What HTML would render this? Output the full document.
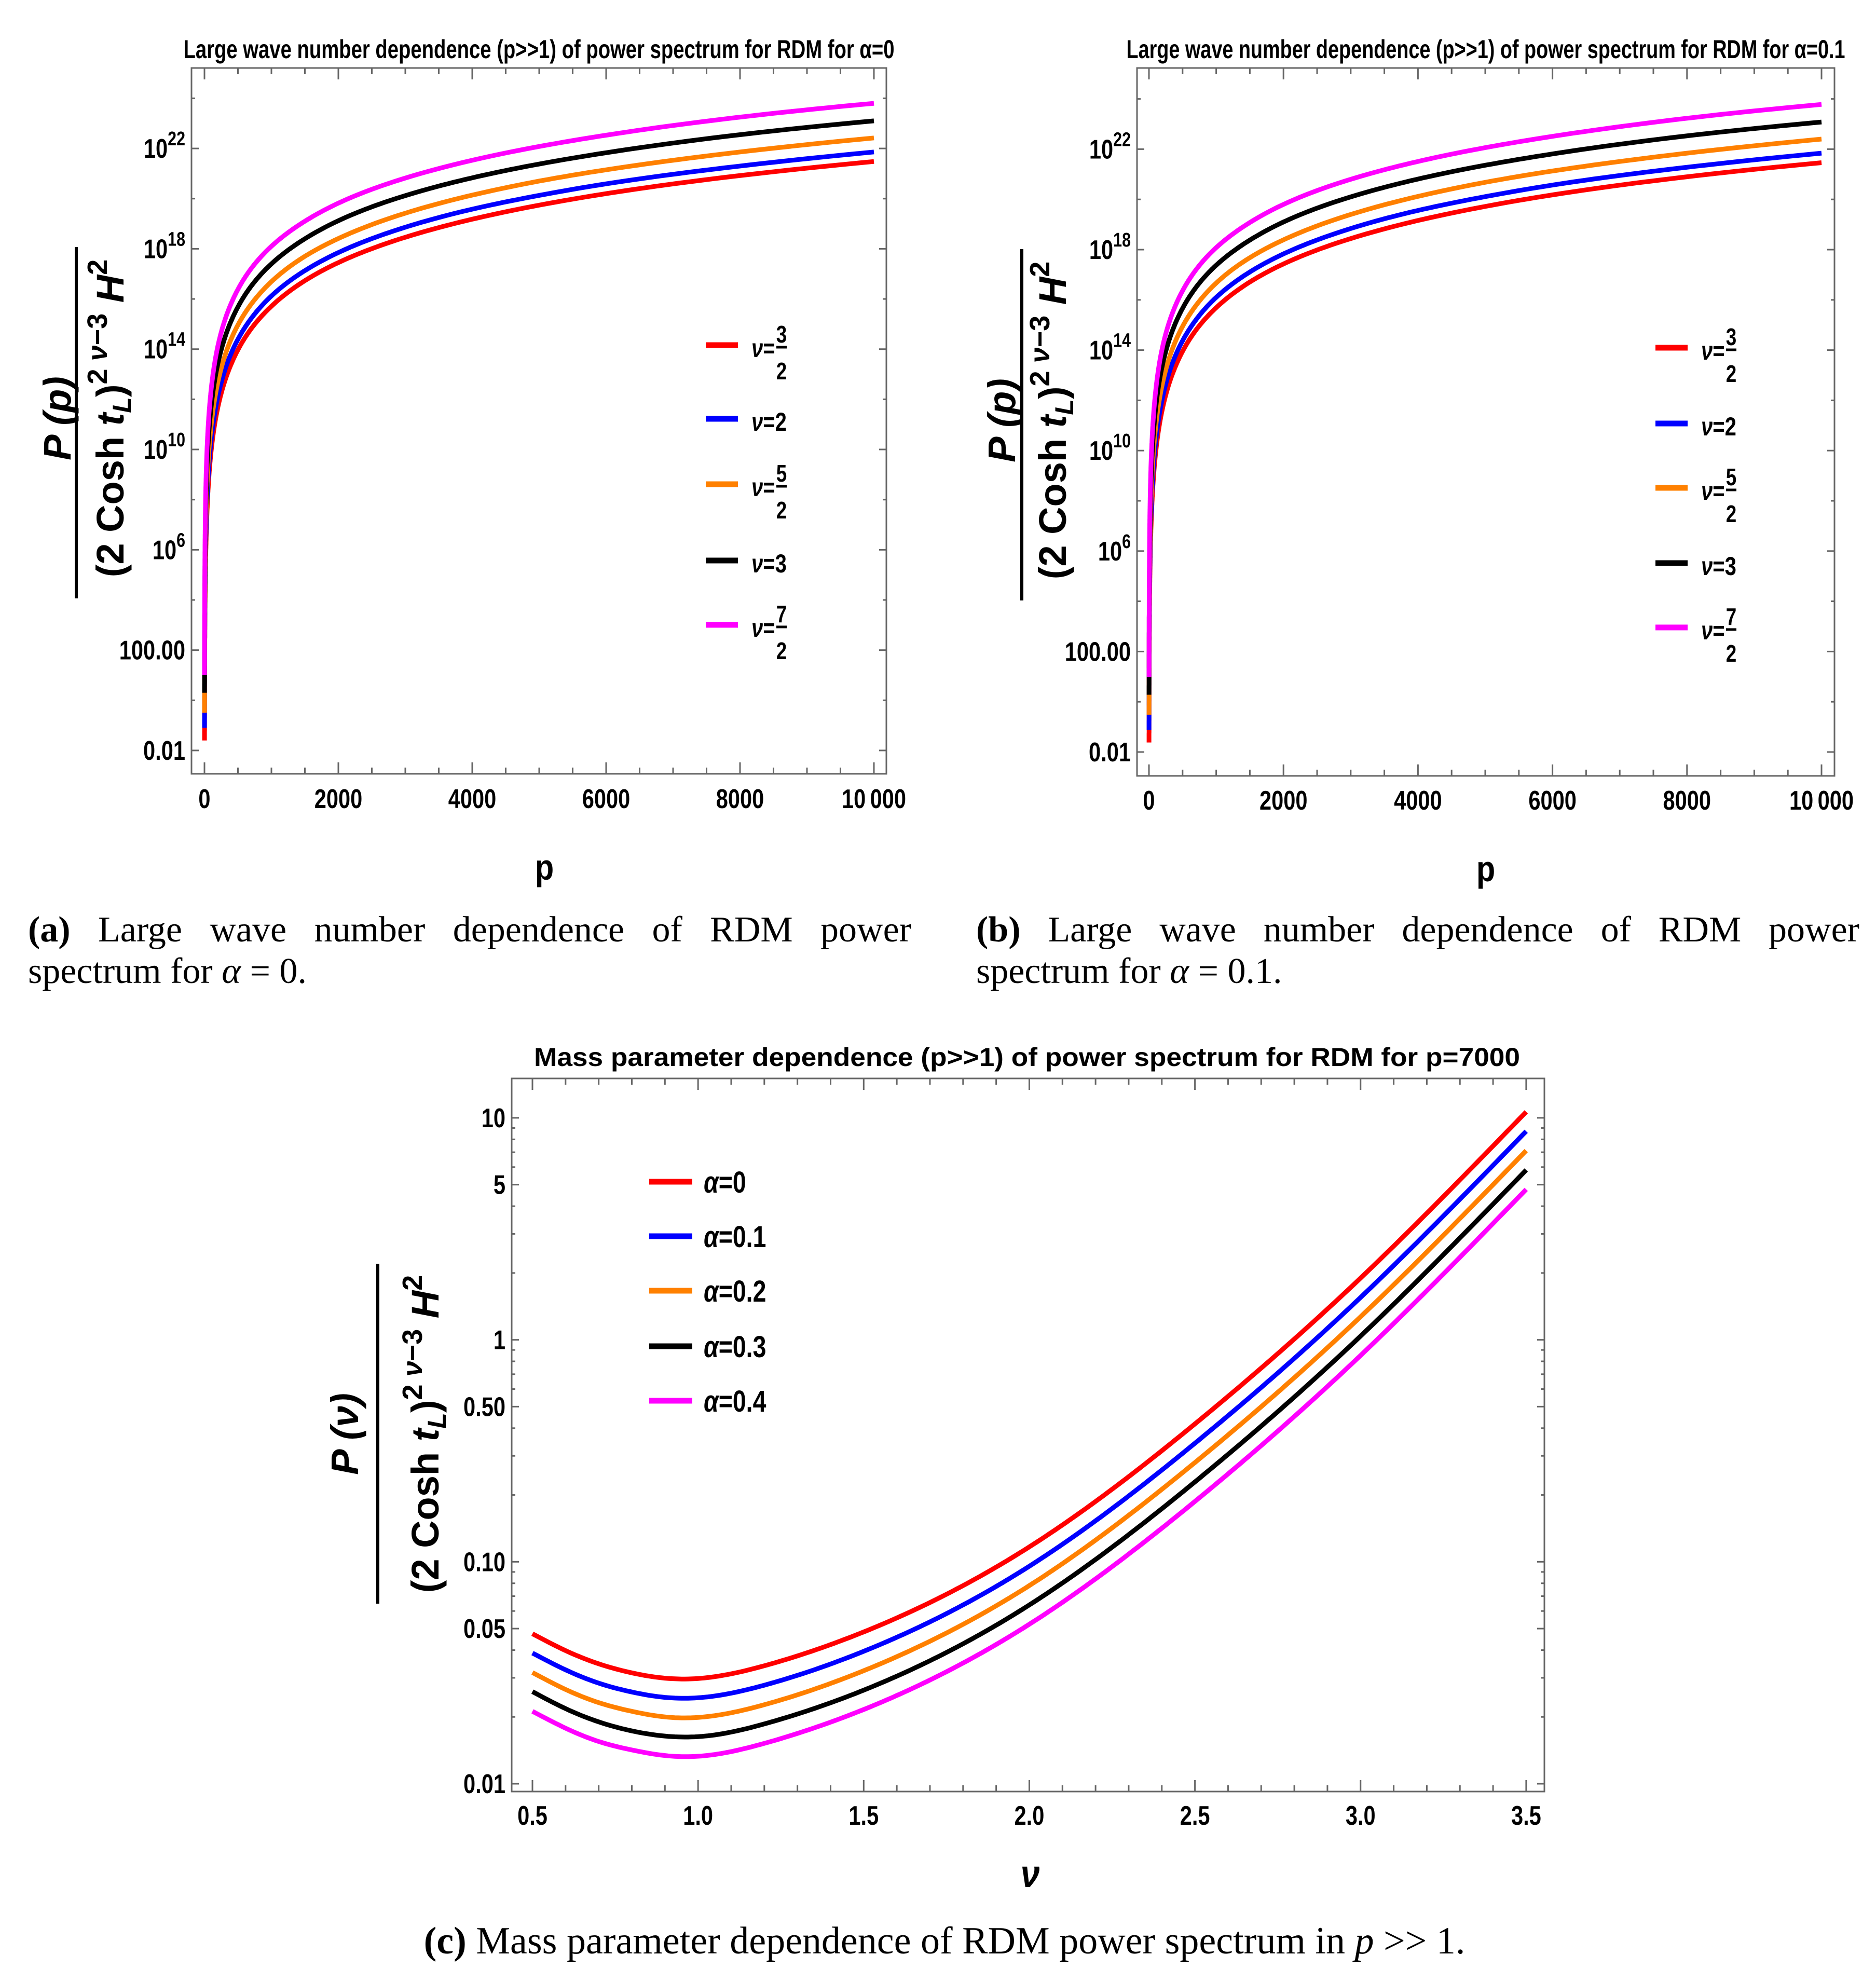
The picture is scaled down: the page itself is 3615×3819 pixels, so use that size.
<!DOCTYPE html>
<html><head><meta charset="utf-8">
<style>
html,body{margin:0;padding:0;background:#fff;}
#root{position:relative;width:3615px;height:3819px;overflow:hidden;background:#fff;}
svg{position:absolute;left:0;top:0;}
.cap{position:absolute;font-family:"Liberation Serif",serif;font-size:70px;line-height:80px;color:#000;}
.j1{text-align:justify;text-align-last:justify;white-space:nowrap;}
</style></head>
<body>
<div id="root">
<svg id="svg" width="3615" height="3819" viewBox="0 0 3615 3819" xmlns="http://www.w3.org/2000/svg">
<defs>
<clipPath id="clipA"><rect x="369" y="131" width="1339" height="1358"/></clipPath>
<clipPath id="clipB"><rect x="2191" y="131" width="1344" height="1364"/></clipPath>
<clipPath id="clipC"><rect x="986" y="2078" width="1990" height="1374"/></clipPath>
</defs>
</svg>
<div class="cap j1" style="left:54px;top:1752px;width:1702px;"><b>(a)</b> Large wave number dependence of RDM power</div>
<div class="cap" style="left:54px;top:1832px;">spectrum for <i>α</i> = 0.</div>
<div class="cap j1" style="left:1881px;top:1752px;width:1702px;"><b>(b)</b> Large wave number dependence of RDM power</div>
<div class="cap" style="left:1881px;top:1832px;">spectrum for <i>α</i> = 0.1.</div>
<div class="cap" style="left:0;width:3640px;text-align:center;top:3700px;font-size:74px;"><b>(c)</b> Mass parameter dependence of RDM power spectrum in <i>p</i> &gt;&gt; 1.</div>
</div>
<script>
// ---------- Panel (a) data: log10 of P(p)/(...) ----------
const aP = [1,3,10,30,100,200,400,700,1000,1500,2000,3000,4000,5000,6000,8000,10000];
const aRed = [-1.60,1.15,4.17,6.92,9.94,11.68,13.41,14.82,15.71,16.73,17.45,18.46,19.18,19.74,20.20,20.92,21.48];
const aBlue = [-1.10,1.64,4.64,7.38,10.38,12.11,13.84,15.23,16.12,17.13,17.85,18.86,19.58,20.13,20.59,21.30,21.86];
const aOrange = [-0.50,2.23,5.23,7.96,10.96,12.68,14.41,15.80,16.69,17.70,18.41,19.42,20.14,20.70,21.15,21.86,22.42];
const aBlack = [0.30,3.02,6.00,8.72,11.70,13.42,15.13,16.52,17.40,18.40,19.12,20.12,20.83,21.38,21.83,22.55,23.10];
const aMagenta = [1.00,3.72,6.70,9.42,12.40,14.12,15.83,17.22,18.10,19.10,19.82,20.82,21.53,22.08,22.53,23.25,23.80];
// ---------- Panel (b) data ----------
const bP = [1,3,10,30,100,200,400,700,1000,1500,2000,3000,4000,5000,6000,8000,10000];
const bRed = [-1.62,1.13,4.15,6.90,9.92,11.66,13.39,14.80,15.69,16.71,17.43,18.44,19.16,19.72,20.18,20.90,21.46];
const bBlue = [-1.12,1.62,4.62,7.36,10.36,12.09,13.82,15.21,16.10,17.11,17.83,18.84,19.56,20.11,20.57,21.28,21.84];
const bOrange = [-0.52,2.21,5.21,7.94,10.94,12.66,14.39,15.78,16.67,17.68,18.39,19.40,20.12,20.68,21.13,21.84,22.40];
const bBlack = [0.28,3.00,5.98,8.70,11.68,13.40,15.11,16.50,17.38,18.38,19.10,20.10,20.81,21.36,21.81,22.53,23.08];
const bMagenta = [0.98,3.70,6.68,9.40,12.38,14.10,15.81,17.20,18.08,19.08,19.80,20.80,21.51,22.06,22.51,23.23,23.78];
// ---------- Panel (c) data ----------
const cNu = [0.5,0.6,0.7,0.8,0.9,1.0,1.2,1.5,2.0,2.5,3.0,3.5];
const cA0 = [0.0474,0.0398,0.0347,0.0316,0.0299,0.0298,0.0340,0.0483,0.1167,0.418,1.897,10.64];
const cA01 = [0.0388,0.0326,0.0284,0.0259,0.0245,0.0244,0.0278,0.0395,0.0955,0.342,1.552,8.70];
const cA02 = [0.0317,0.0266,0.0232,0.0212,0.0200,0.0199,0.0227,0.0323,0.0781,0.280,1.270,7.12];
const cA03 = [0.0260,0.0218,0.0190,0.0173,0.0164,0.0163,0.0186,0.0264,0.0639,0.229,1.039,5.82];
const cA04 = [0.0212,0.0178,0.0155,0.0142,0.0134,0.0133,0.0152,0.0216,0.0523,0.187,0.850,4.76];
const abYTickExp = [-2,2,6,10,14,18,22];
const abXTicks = [0,2000,4000,6000,8000,10000];
const abXTickLabels = ["0","2000","4000","6000","8000","10\u2009000"];
const cYTicks = [10,5,1,0.5,0.1,0.05,0.01];
const cYTickLabels = ["10","5","1","0.50","0.10","0.05","0.01"];
const cXTicks = [0.5,1.0,1.5,2.0,2.5,3.0,3.5];
const cXTickLabels = ["0.5","1.0","1.5","2.0","2.5","3.0","3.5"];
const abLegendLabels = [["3","2"],"2",["5","2"],"3",["7","2"]];
const cLegendLabels = ["α=0","α=0.1","α=0.2","α=0.3","α=0.4"];
const COLORS = ["#ff0000","#0000ff","#ff8000","#000000","#ff00ff"];

const NS = "http://www.w3.org/2000/svg";
const svg = document.getElementById('svg');
function mk(tag, parent){ const e=document.createElementNS(NS,tag); parent.appendChild(e); return e; }
function ntext(parent,x,y,str,size,anchor,sx){
  const t=mk('text',parent);
  t.setAttribute('transform','translate('+x+','+y+') scale('+sx+',1)');
  t.setAttribute('font-family','"Liberation Sans",sans-serif');
  t.setAttribute('font-weight','bold');
  t.setAttribute('font-size',size);
  t.setAttribute('text-anchor',anchor);
  t.textContent=str;
  return t;
}
// natural cubic spline evaluator (for smooth drawing through data points)
function natSpline(X,Y){
  const n=X.length, h=[], al=[], l=[1], mu=[0], z=[0], c=new Array(n).fill(0), b=[], d=[];
  for(let i=0;i<n-1;i++) h.push(X[i+1]-X[i]);
  for(let i=1;i<n-1;i++) al[i]=3/h[i]*(Y[i+1]-Y[i])-3/h[i-1]*(Y[i]-Y[i-1]);
  for(let i=1;i<n-1;i++){ l[i]=2*(X[i+1]-X[i-1])-h[i-1]*mu[i-1]; mu[i]=h[i]/l[i]; z[i]=(al[i]-h[i-1]*z[i-1])/l[i]; }
  l[n-1]=1; z[n-1]=0; c[n-1]=0;
  for(let j=n-2;j>=0;j--){ c[j]=z[j]-mu[j]*c[j+1]; b[j]=(Y[j+1]-Y[j])/h[j]-h[j]*(c[j+1]+2*c[j])/3; d[j]=(c[j+1]-c[j])/(3*h[j]); }
  return function(x){
    let i=0; while(i<n-2 && x>X[i+1]) i++;
    const t=x-X[i]; return Y[i]+b[i]*t+c[i]*t*t+d[i]*t*t*t;
  };
}
function polyPath(pts){ return 'M'+pts.map(p=>p[0].toFixed(1)+','+p[1].toFixed(1)).join(' L'); }
function line(parent,x1,y1,x2,y2,stroke,w){
  const l=mk('line',parent);
  l.setAttribute('x1',x1);l.setAttribute('y1',y1);l.setAttribute('x2',x2);l.setAttribute('y2',y2);
  l.setAttribute('stroke',stroke);l.setAttribute('stroke-width',w);
  return l;
}
function frame(g,L,T,R,B){
  const r=mk('rect',g);
  r.setAttribute('x',L);r.setAttribute('y',T);r.setAttribute('width',R-L);r.setAttribute('height',B-T);
  r.setAttribute('fill','none');r.setAttribute('stroke','#666');r.setAttribute('stroke-width',3);
  
  
}
function yLabel(g,cfg,numStr){
  const n=mk('text',g);
  n.setAttribute('transform','translate('+cfg.numX+','+cfg.cy+') rotate(-90)');
  n.setAttribute('font-family','"Liberation Sans",sans-serif');
  n.setAttribute('font-weight','bold');n.setAttribute('font-style','italic');
  n.setAttribute('font-size',74);n.setAttribute('text-anchor','middle');
  n.textContent=numStr;
  
  
  const bar=line(g,cfg.barX,cfg.barT,cfg.barX,cfg.barB,'#000',6);
  
  
  const d=mk('text',g);
  d.setAttribute('transform','translate('+cfg.denX+','+cfg.cy+') rotate(-90)');
  d.setAttribute('font-family','"Liberation Sans",sans-serif');
  d.setAttribute('font-weight','bold');
  d.setAttribute('font-size',74);d.setAttribute('text-anchor','middle');
  d.innerHTML='(2 Cosh <tspan font-style="italic">t</tspan><tspan font-size="50" dy="14" font-style="italic">L</tspan><tspan dy="-14">)</tspan><tspan font-size="54" dy="-32">2 <tspan font-style="italic">ν</tspan>−3</tspan><tspan dy="32"> </tspan><tspan font-style="italic">H</tspan><tspan font-size="54" dy="-32">2</tspan>';
  
  
}

function drawAB(cfg){
  const g=mk('g',svg);
  
  
  const xs=p=>cfg.x0+p*(cfg.x1-cfg.x0)/10000;
  const ys=e=>cfg.yBase-(e+2)*cfg.dec;
  const t=ntext(g,(cfg.L+cfg.R)/2,cfg.titleY,cfg.title,50,'middle',1);
  t.setAttribute('textLength',cfg.titleW);t.setAttribute('lengthAdjust','spacingAndGlyphs');
  t.setAttribute('transform','translate('+((cfg.L+cfg.R)/2)+','+cfg.titleY+')');
  
  
  frame(g,cfg.L,cfg.T,cfg.R,cfg.B);
  for(let p=0;p<=10000;p+=500){
    const maj=(p%2000===0), len=maj?22:12, x=xs(p);
    const tk=line(g,x,cfg.B,x,cfg.B-len,'#666',3);
    
    
    const tk2=line(g,x,cfg.T,x,cfg.T+len,'#666',3);
    
    
  }
  abXTicks.forEach((v,i)=>{
    const lb=ntext(g,xs(v),cfg.xLabY,abXTickLabels[i],52,'middle',0.8);
    
    
  });
  for(let e=-2;e<=26;e+=2){
    const y=ys(e); if(y<cfg.T+2) continue;
    const maj=((e+2)%4===0), len=maj?14:7;
    const tk=line(g,cfg.L,y,cfg.L+len,y,'#666',3);
    
    
    const tk2=line(g,cfg.R,y,cfg.R-len,y,'#666',3);
    
    
  }
  abYTickExp.forEach(e=>{
    const y=ys(e)+18, x=cfg.L-12;
    let lb;
    if(e===-2) lb=ntext(g,x,y,'0.01',52,'end',0.8);
    else if(e===2) lb=ntext(g,x,y,'100.00',52,'end',0.8);
    else { lb=ntext(g,x,y,'',52,'end',0.8); lb.innerHTML='10<tspan font-size="38" dy="-24">'+e+'</tspan>'; }
    
    
  });
  const cg=mk('g',g); cg.setAttribute('clip-path','url(#'+cfg.clip+')');
  
  
  const lp=cfg.p.map(p=>Math.log10(p));
  cfg.series.forEach((s,i)=>{
    const f=natSpline(lp,s);
    const pts=[];
    const lo=lp[0], hi=lp[lp.length-1];
    for(let k=0;k<=400;k++){ const u=lo+(hi-lo)*k/400; pts.push([xs(Math.pow(10,u)),ys(f(u))]); }
    const path=mk('path',cg);
    path.setAttribute('d',polyPath(pts));
    path.setAttribute('fill','none');path.setAttribute('stroke',COLORS[i]);
    path.setAttribute('stroke-width',9);path.setAttribute('stroke-linejoin','round');
    
    
  });
  abLegendLabels.forEach((lab,i)=>{
    const y=cfg.legY[i];
    const lg=mk('g',g);
    
    
    const sw=line(lg,cfg.legX,y,cfg.legX+62,y,COLORS[i],11);
    
    
    const tx=cfg.legX+88;
    const t1=ntext(lg,tx,y+23,'',50,'start',0.8);
    t1.innerHTML='<tspan font-style="italic">ν</tspan>=' + (Array.isArray(lab)?'':lab);
    
    
    if(Array.isArray(lab)){
      const fx=tx+58;
      const n=ntext(lg,fx,y-5,lab[0],46,'middle',0.8);
      
      
      const fb=line(lg,fx-10,y+4,fx+10,y+4,'#000',5);
      
      
      const d=ntext(lg,fx,y+66,lab[1],46,'middle',0.8);
      
      
    }
  });
  const xl=ntext(g,cfg.xTitleX,cfg.xTitleY,'p',70,'middle',0.85);
  
  
  yLabel(g,cfg.yl,'P (p)');
}

drawAB({name:'panel-a-chart',L:369,T:131,R:1708,B:1491,x0:394,x1:1684,yBase:1446,dec:48.33,
  title:'Large wave number dependence (p>>1) of power spectrum for RDM for α=0',titleY:112,titleW:1370,
  xLabY:1557,clip:'clipA',p:aP,series:[aRed,aBlue,aOrange,aBlack,aMagenta],
  seriesNames:['nu-3-2','nu-2','nu-5-2','nu-3','nu-7-2'],
  legX:1360,legY:[665,807,933,1080,1204],xTitleX:1049,xTitleY:1695,
  yl:{numX:136,denX:238,barX:147,barT:476,barB:1153,cy:806}});
drawAB({name:'panel-b-chart',L:2191,T:131,R:3535,B:1495,x0:2214,x1:3510,yBase:1449,dec:48.4,
  title:'Large wave number dependence (p>>1) of power spectrum for RDM for α=0.1',titleY:112,titleW:1385,
  xLabY:1560,clip:'clipB',p:bP,series:[bRed,bBlue,bOrange,bBlack,bMagenta],
  seriesNames:['nu-3-2','nu-2','nu-5-2','nu-3','nu-7-2'],
  legX:3190,legY:[670,816,940,1085,1209],xTitleX:2863,xTitleY:1698,
  yl:{numX:1956,denX:2054,barX:1969,barT:480,barB:1157,cy:810}});

(function(){
  const L=986,T=2078,R=2976,B=3452;
  const xs=v=>1026+(v-0.5)*638.3;
  const yl=l=>3437-(l+2)*427.7;
  const ys=P=>yl(Math.log10(P));
  const g=mk('g',svg);
  
  
  const t=ntext(g,1979,2054,'Mass parameter dependence (p>>1) of power spectrum for RDM for p=7000',50,'middle',1);
  t.setAttribute('textLength',1900);t.setAttribute('lengthAdjust','spacingAndGlyphs');
  t.setAttribute('transform','translate(1979,2054)');
  
  
  frame(g,L,T,R,B);
  for(let k=0;k<=30;k++){
    const v=0.5+k*0.1, x=xs(v), maj=(k%5===0), len=maj?22:12;
    const tk=line(g,x,B,x,B-len,'#666',3);
    
    
    const tk2=line(g,x,T,x,T+len,'#666',3);
    
    
  }
  cXTicks.forEach((v,i)=>{
    const lb=ntext(g,xs(v),3516,cXTickLabels[i],52,'middle',0.8);
    
    
  });
  for(let e=-2;e<=1;e++){
    for(let m=1;m<=9;m++){
      const P=m*Math.pow(10,e), y=ys(P); if(y<T+2) continue;
      const maj=(m===1||m===5), len=maj?14:7;
      const tk=line(g,L,y,L+len,y,'#666',3);
      
      
      const tk2=line(g,R,y,R-len,y,'#666',3);
      
      
    }
  }
  cYTicks.forEach((v,i)=>{
    const lb=ntext(g,L-12,ys(v)+18,cYTickLabels[i],52,'end',0.8);
    
    
  });
  const cg=mk('g',g); cg.setAttribute('clip-path','url(#clipC)');
  
  
  const names=['alpha-0','alpha-0-1','alpha-0-2','alpha-0-3','alpha-0-4'];
  [cA0,cA01,cA02,cA03,cA04].forEach((s,i)=>{
    const f=natSpline(cNu,s.map(v=>Math.log10(v)));
    const pts=[];
    const lo=cNu[0], hi=cNu[cNu.length-1];
    for(let k=0;k<=300;k++){ const v=lo+(hi-lo)*k/300; pts.push([xs(v),yl(f(v))]); }
    const path=mk('path',cg);
    path.setAttribute('d',polyPath(pts));
    path.setAttribute('fill','none');path.setAttribute('stroke',COLORS[i]);
    path.setAttribute('stroke-width',9);path.setAttribute('stroke-linejoin','round');
    
    
  });
  const legY=[2277,2382,2487,2594,2699];
  cLegendLabels.forEach((lab,i)=>{
    const lg=mk('g',g);
    
    
    const sw=line(lg,1251,legY[i],1334,legY[i],COLORS[i],11);
    
    
    const tx=ntext(lg,1356,legY[i]+21,'',58,'start',0.8);
    tx.innerHTML='<tspan font-style="italic">α</tspan>'+lab.slice(1);
    
    
  });
  const xl=ntext(g,1985,3636,'ν',74,'middle',0.9);
  xl.setAttribute('font-style','italic');
  
  
  yLabel(g,{numX:690,denX:845,barX:728,barT:2435,barB:3090,cy:2763},'P (ν)');
})();
</script>
</body></html>
